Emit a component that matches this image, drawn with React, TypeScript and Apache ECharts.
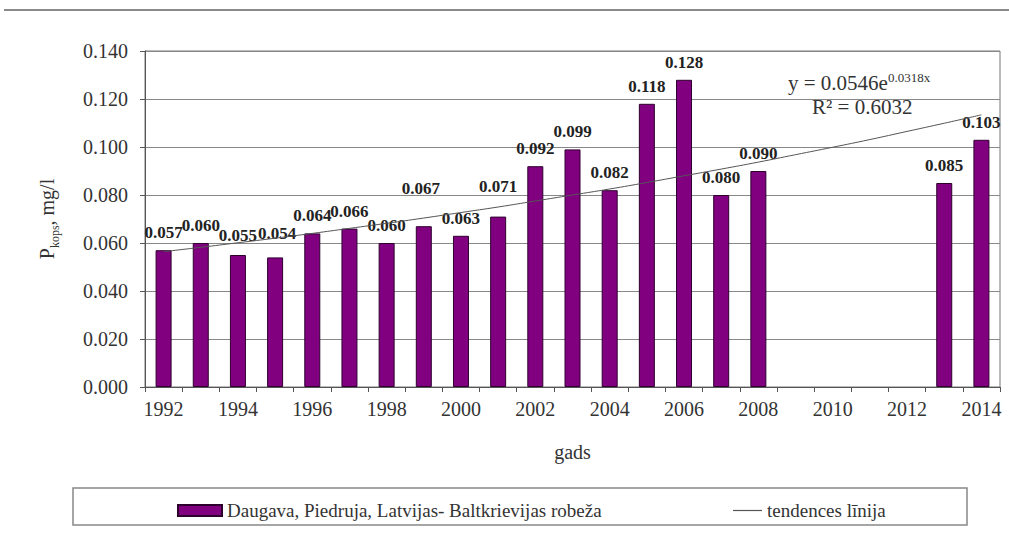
import React, { useEffect, useRef } from "react";
import * as echarts from "echarts";

const years = ["1992","1993","1994","1995","1996","1997","1998","1999","2000","2001","2002","2003","2004","2005","2006","2007","2008","2009","2010","2011","2012","2013","2014"];
const pValues: (number | null)[] = [0.057,0.060,0.055,0.054,0.064,0.066,0.060,0.067,0.063,0.071,0.092,0.099,0.082,0.118,0.128,0.080,0.090,null,null,null,null,0.085,0.103];
const trendValues = [0.0564,0.0582,0.0601,0.0620,0.0640,0.0661,0.0682,0.0704,0.0727,0.0750,0.0775,0.0800,0.0825,0.0852,0.0880,0.0908,0.0937,0.0968,0.0999,0.1031,0.1065,0.1099,0.1134];
const yTicks = { min: 0, max: 0.14, interval: 0.02 };
const barName = "Daugava, Piedruja, Latvijas- Baltkrievijas robeža";
const lineName = "tendences līnija";
const labelShift: Record<number, [number, number]> = { 2: [0, -2], 3: [2, -6], 7: [-3, -20], 9: [0, -13] };

const FONT = "Liberation Serif";

export default function App() {
  const ref = useRef<HTMLDivElement>(null);
  useEffect(() => {
    if (!ref.current) return;
    const chart = echarts.init(ref.current, undefined, { renderer: "svg" });
    const barData = pValues.map((v, i) => {
      if (v === null) return "-";
      const item: any = { value: v };
      if (labelShift[i]) item.label = { offset: labelShift[i] };
      return item;
    });
    chart.setOption({
      animation: false,
      backgroundColor: "#ffffff",
      textStyle: { fontFamily: FONT },
      grid: { left: 145, right: 9, top: 51, bottom: 146, show: true, borderColor: "#777", borderWidth: 1 },
      legend: [
        {
          data: [{ name: barName, icon: "rect" }],
          left: 172, top: 496, itemWidth: 44, itemHeight: 11, itemGap: 4,
          textStyle: { fontFamily: FONT, fontSize: 19, color: "#333" },
        },
        {
          data: [{ name: lineName, icon: "rect", itemStyle: { color: "#555" } }],
          left: 728, top: 496, itemWidth: 29, itemHeight: 1.2, itemGap: 4,
          textStyle: { fontFamily: FONT, fontSize: 19, color: "#333" },
        },
      ],
      xAxis: {
        type: "category",
        data: years,
        name: "gads",
        nameLocation: "middle",
        nameGap: 55,
        nameTextStyle: { fontFamily: FONT, fontSize: 20, color: "#333" },
        axisLine: { lineStyle: { color: "#555", width: 1 } },
        axisTick: { show: true, alignWithLabel: false, interval: 0, length: 5, lineStyle: { color: "#555" } },
        axisLabel: { interval: 1, fontFamily: FONT, fontSize: 20, color: "#333", margin: 12 },
        splitLine: { show: false },
      },
      yAxis: {
        type: "value",
        min: yTicks.min,
        max: yTicks.max,
        interval: yTicks.interval,
        name: "{a|P}{b|kops}{a|, mg/l}",
        nameLocation: "middle",
        nameRotate: 90,
        nameGap: 88,
        nameTextStyle: {
          rich: {
            a: { fontFamily: FONT, fontSize: 20, color: "#333", lineHeight: 24, verticalAlign: "bottom" },
            b: { fontFamily: FONT, fontSize: 12, color: "#333", lineHeight: 24, verticalAlign: "bottom", padding: [0, 0, -4, 0] },
          },
        },
        axisLine: { show: true, lineStyle: { color: "#555", width: 1 } },
        axisTick: { show: true, length: 5, lineStyle: { color: "#555" } },
        axisLabel: { fontFamily: FONT, fontSize: 20, color: "#333", margin: 17, formatter: (v: number) => v.toFixed(3) },
        splitLine: { show: true, lineStyle: { color: "#888", width: 1 } },
      },
      series: [
        {
          name: barName,
          type: "bar",
          data: barData,
          barWidth: 16,
          itemStyle: { color: "#800080", borderColor: "#2e002e", borderWidth: 1 },
          label: {
            show: true,
            position: "top",
            distance: 9,
            fontFamily: FONT,
            fontSize: 17,
            fontWeight: "bold",
            color: "#222",
            formatter: (p: any) => Number(p.value).toFixed(3),
          },
          z: 2,
        },
        {
          name: lineName,
          type: "line",
          data: trendValues,
          smooth: true,
          symbol: "none",
          lineStyle: { color: "#555", width: 1 },
          itemStyle: { color: "#555" },
          z: 3,
        },
      ],
      graphic: [
        { type: "rect", shape: { x: 4, y: 9, width: 1005, height: 2 }, style: { fill: "#8a8a8a" } },
        { type: "rect", shape: { x: 73, y: 488, width: 894, height: 37 }, style: { fill: "none", stroke: "#888", lineWidth: 1.5 } },
        {
          type: "text",
          left: 788,
          top: 71,
          style: {
            text: "{m|y = 0.0546e}{s|0.0318x}",
            rich: {
              m: { fontFamily: FONT, fontSize: 21, fill: "#333", lineHeight: 22, verticalAlign: "bottom" },
              s: { fontFamily: FONT, fontSize: 13, fill: "#333", lineHeight: 22, verticalAlign: "top" },
            },
          },
        },
        {
          type: "text",
          left: 812,
          top: 96,
          style: {
            text: "R² = 0.6032",
            fontFamily: FONT,
            fontSize: 21,
            fill: "#333",
          },
        },
      ],
    });
    return () => chart.dispose();
  }, []);
  return <div ref={ref} style={{ position: "fixed", left: 0, top: 0, width: 1009, height: 533 }} />;
}
